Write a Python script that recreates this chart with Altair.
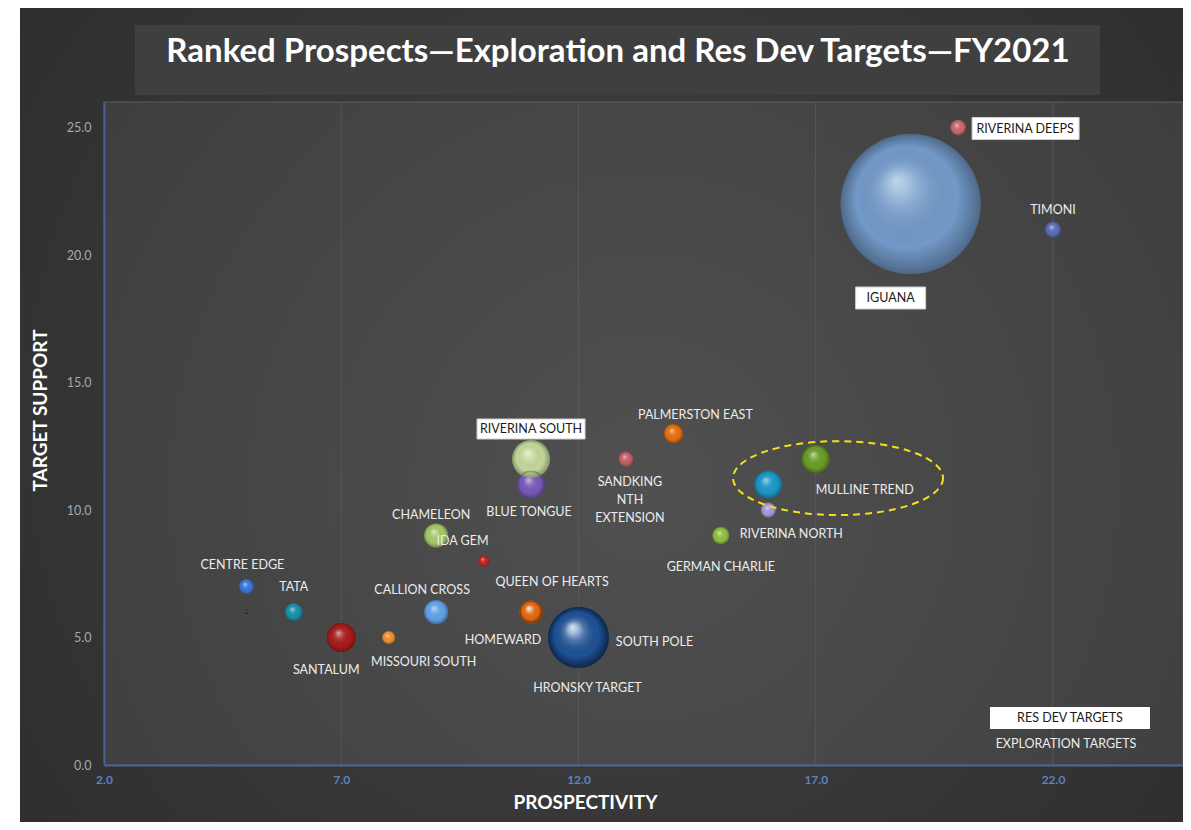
import altair as alt
import pandas as pd

# ---------------- data ----------------
names = ["IGUANA", "RIVERINA DEEPS", "TIMONI", "PALMERSTON EAST", "SANDKING NTH EXTENSION",
         "BLUE TONGUE", "RIVERINA SOUTH", "CHAMELEON", "IDA GEM", "CENTRE EDGE", "UNLABELLED A",
         "TATA", "SANTALUM", "MISSOURI SOUTH", "CALLION CROSS", "QUEEN OF HEARTS", "HOMEWARD",
         "SOUTH POLE", "HRONSKY TARGET", "MULLINE TREND", "RIVERINA NORTH", "UNLABELLED B",
         "GERMAN CHARLIE"]
labels = ["IGUANA", "RIVERINA DEEPS", "TIMONI", "PALMERSTON EAST", "SANDKING\nNTH\nEXTENSION",
          "BLUE TONGUE", "RIVERINA SOUTH", "CHAMELEON", "IDA GEM", "CENTRE EDGE", "",
          "TATA", "SANTALUM", "MISSOURI SOUTH", "CALLION CROSS", "QUEEN OF HEARTS", "HOMEWARD",
          "SOUTH POLE", "HRONSKY TARGET", "MULLINE TREND", "RIVERINA NORTH", "",
          "GERMAN CHARLIE"]
prospectivity = [19, 20, 22, 14, 13, 11, 11, 9, 10, 5, 5, 6, 7, 8, 9, 11, 11, 12, 12, 17, 16, 16, 15]
target_support = [22, 25, 21, 13, 12, 11, 12, 9, 8, 7, 6, 6, 5, 5, 6, 6, 6, 5, 5, 12, 10, 11, 9]
bubble = [196, 2.4, 2.6, 3.6, 2.2, 7.8, 14.4, 5.8, 1.2, 2.2, 0.16, 3.2, 8.4, 1.7, 5.8, 5.3, 5.3,
          37.2, 37.2, 7.8, 2.2, 7.8, 2.9]
category = ["Res Dev", "Res Dev", "Exploration", "Exploration", "Exploration", "Exploration",
            "Res Dev", "Exploration", "Exploration", "Exploration", "Exploration", "Exploration",
            "Exploration", "Exploration", "Exploration", "Exploration", "Exploration",
            "Exploration", "Exploration", "Exploration", "Exploration", "Exploration",
            "Exploration"]
colors = ["#7299c8", "#c86a6a", "#5a6cb4", "#e8700c", "#c8606a", "#7a58b8", "#c2d89a", "#a6c86c",
          "#c82222", "#3a78d8", "#303030", "#1890a8", "#a81c1c", "#f09030", "#62a2e8", "#e86a10",
          "#e86a10", "#1e5298", "#1e5298", "#6a9c28", "#a898d8", "#1c98c8", "#90c040"]

x_ticks = [2, 7, 12, 17, 22]
y_ticks = [0, 5, 10, 15, 20, 25]
title_text = "Ranked Prospects\u2014Exploration and Res Dev Targets\u2014FY2021"
legend_items = ["RES DEV TARGETS", "EXPLORATION TARGETS"]

# ---------------- styling ----------------
FONT = "Lato"
W, H = 1079, 663
X_DOMAIN = [2, 24.74]
Y_DOMAIN = [0, 26]

# label offsets (px from bubble centre)
label_offsets = {
    "IGUANA": (-20, 94), "RIVERINA DEEPS": (67, 1), "TIMONI": (0, -20),
    "PALMERSTON EAST": (22, -19), "SANDKING NTH EXTENSION": (4, 23), "BLUE TONGUE": (-2, 27),
    "RIVERINA SOUTH": (0, -30), "CHAMELEON": (-5, -21), "IDA GEM": (-21, -20),
    "CENTRE EDGE": (-4, -22), "TATA": (0, -25), "SANTALUM": (-15, 32),
    "MISSOURI SOUTH": (35, 24), "CALLION CROSS": (-14, -22), "QUEEN OF HEARTS": (21, -30),
    "HOMEWARD": (-28, 28), "SOUTH POLE": (76, 4), "HRONSKY TARGET": (9, 50),
    "MULLINE TREND": (49, 31), "RIVERINA NORTH": (23, 24), "GERMAN CHARLIE": (0, 31),
}
# white boxes behind Res Dev labels (custom symbol path, 1 unit = 10 px)
box_paths = {
    "RIVERINA DEEPS": "M1.4,-1.0H12.1V1.2H1.4Z",
    "IGUANA": "M-5.5,8.3H1.5V10.5H-5.5Z",
    "RIVERINA SOUTH": "M-5.4,-4.0H5.4V-2.0H-5.4Z",
}

df = pd.DataFrame({
    "name": names, "label": labels, "prospectivity": prospectivity,
    "support": target_support, "bubble": bubble, "category": category,
})

x_enc = alt.X("prospectivity:Q",
              scale=alt.Scale(domain=X_DOMAIN, nice=False, zero=False),
              axis=alt.Axis(values=x_ticks, format=".1f", title="PROSPECTIVITY", grid=False,
                            ticks=False, domainColor="#4d63a0", domainWidth=2,
                            labelColor="#5b82c4", labelFont=FONT, labelFontSize=12,
                            labelFontWeight="bold", labelPadding=9, labelFlush=False,
                            labelOverlap=False, titleX=481, titleY=37, titleAlign="center",
                            titleBaseline="middle", titleFont=FONT, titleFontSize=19,
                            titleFontWeight="bold", titleColor="white", zindex=1))
y_enc = alt.Y("support:Q",
              scale=alt.Scale(domain=Y_DOMAIN, nice=False, zero=True),
              axis=alt.Axis(values=y_ticks, format=".1f", title="TARGET SUPPORT", grid=False,
                            ticks=False, domainColor="#4d63a0", domainWidth=1.5,
                            labelColor="#a8a8a8", labelFont=FONT, labelFontSize=12.5,
                            labelPadding=13, labelFlush=False, labelOverlap=False,
                            titleX=-64, titleY=308, titleAngle=270, titleAlign="center",
                            titleBaseline="middle", titleFont=FONT, titleFontSize=19,
                            titleFontWeight="bold", titleColor="white", zindex=1))
# Vega circle: diameter = sqrt(size); bubble value ~ area
size_enc = alt.Size("bubble:Q", scale=alt.Scale(type="linear", domain=[0, 196],
                                                 range=[0, 19600], zero=True), legend=None)
color_enc = alt.Color("name:N", scale=alt.Scale(domain=names, range=colors), legend=None)

one = pd.DataFrame({"t": [title_text]})

outer_bg = alt.Chart(one).mark_rect(
    fill={"gradient": "radial", "x1": 0.5, "y1": 0.5, "r1": 0, "x2": 0.5, "y2": 0.5, "r2": 0.75,
          "stops": [{"offset": 0, "color": "#434343"}, {"offset": 1, "color": "#2a2a2a"}]}
).encode(x=alt.value(-84), x2=alt.value(W + 10), y=alt.value(-94), y2=alt.value(H + 70))

title_box = alt.Chart(one).mark_rect(fill="#3f3f3f").encode(
    x=alt.value(31), x2=alt.value(996), y=alt.value(-77), y2=alt.value(-7))

title = alt.Chart(one).mark_text(font=FONT, fontSize=33, fontWeight="bold", color="white",
                                 align="center", baseline="middle").encode(
    x=alt.value(514), y=alt.value(-50), text="t:N")

plot_bg = alt.Chart(one).mark_rect(
    fill={"gradient": "radial", "x1": 0.5, "y1": 0.55, "r1": 0, "x2": 0.5, "y2": 0.55, "r2": 0.7,
          "stops": [{"offset": 0, "color": "#505050"}, {"offset": 1, "color": "#3c3c3c"}]},
    stroke="#5e5e5e", strokeWidth=1
).encode(x=alt.value(0), x2=alt.value(W), y=alt.value(0), y2=alt.value(H))

grid = alt.Chart(pd.DataFrame({"prospectivity": x_ticks[1:]})).mark_rule(
    color="#585858", strokeWidth=1
).encode(x=x_enc, y=alt.value(0), y2=alt.value(H))

base = alt.Chart(df)
bubbles = base.mark_circle(opacity=1).encode(x=x_enc, y=y_enc, size=size_enc, color=color_enc)
shine = base.mark_circle(
    opacity=1,
    fill={"gradient": "radial", "x1": 0.4, "y1": 0.33, "r1": 0, "x2": 0.5, "y2": 0.5, "r2": 0.5,
          "stops": [{"offset": 0, "color": "rgba(235,255,255,0.62)"},
                    {"offset": 0.3, "color": "rgba(255,255,255,0.14)"},
                    {"offset": 0.72, "color": "rgba(0,0,0,0.0)"},
                    {"offset": 0.95, "color": "rgba(0,0,0,0.25)"},
                    {"offset": 1, "color": "rgba(0,0,0,0.32)"}]}
).encode(x=x_enc, y=y_enc, size=size_enc)

# dashed ellipse annotation around Mulline Trend group
ellipse_df = pd.DataFrame({"prospectivity": [17.47], "support": [11.25]})
ellipse_path = ("M1,0C1,0.1944 0.5523,0.352 0,0.352C-0.5523,0.352 -1,0.1944 -1,0"
                "C-1,-0.1944 -0.5523,-0.352 0,-0.352C0.5523,-0.352 1,-0.1944 1,0Z")
ellipse = alt.Chart(ellipse_df).mark_point(
    shape=ellipse_path, size=44100, filled=False, stroke="#f2e21e", strokeWidth=2,
    strokeDash=[7, 5], opacity=1
).encode(x=x_enc, y=y_enc)

layers = [outer_bg, title_box, title, plot_bg, grid, bubbles, shine, ellipse]

for nm, path in box_paths.items():
    layers.append(base.transform_filter(alt.datum.name == nm).mark_point(
        shape=path, size=400, filled=True, fill="white", stroke="#cfcfcf", strokeWidth=1,
        opacity=1).encode(x=x_enc, y=y_enc))

for nm, (dx, dy) in label_offsets.items():
    boxed = nm in box_paths
    layers.append(base.transform_filter(alt.datum.name == nm).mark_text(
        dx=dx, dy=dy, align="center", baseline="middle", font=FONT, fontSize=12.5,
        color="#1a1a1a" if boxed else "#ececec", lineBreak="\n", lineHeight=18
    ).encode(x=x_enc, y=y_enc, text="label:N"))

legend_df = pd.DataFrame({"t": legend_items})
legend_box = alt.Chart(one).mark_rect(fill="white").encode(
    x=alt.value(886), x2=alt.value(1046), y=alt.value(605), y2=alt.value(627))
legend_t1 = alt.Chart(legend_df).transform_filter(alt.datum.t == legend_items[0]).mark_text(
    font=FONT, fontSize=12.5, color="#1a1a1a", align="center", baseline="middle").encode(
    x=alt.value(966), y=alt.value(616), text="t:N")
legend_t2 = alt.Chart(legend_df).transform_filter(alt.datum.t == legend_items[1]).mark_text(
    font=FONT, fontSize=12.5, color="#ececec", align="center", baseline="middle").encode(
    x=alt.value(962), y=alt.value(642), text="t:N")
layers += [legend_box, legend_t1, legend_t2]

chart = alt.layer(*layers).properties(
    width=W, height=H,
    autosize=alt.AutoSizeParams(type="none"),
    padding={"left": 96, "top": 94, "right": 0, "bottom": 57},
).configure(background="white").configure_view(stroke=None)

chart.save("out.html", embed_options={"renderer": "svg", "actions": False})
